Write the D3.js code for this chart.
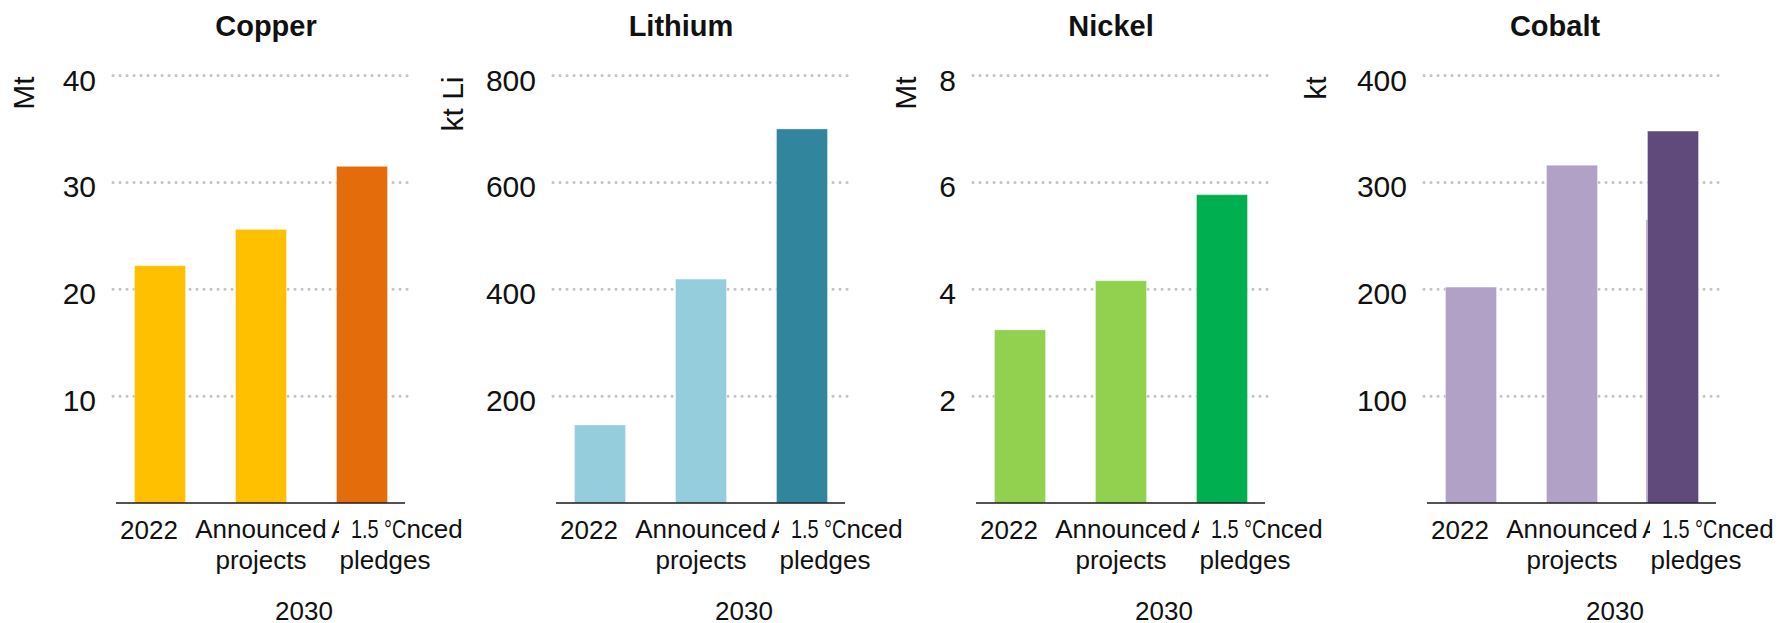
<!DOCTYPE html>
<html>
<head>
<meta charset="utf-8">
<script src="https://cdn.jsdelivr.net/npm/d3@7"></script>
<style>
  body { margin: 0; background: #fff; }
  svg { display: block; font-family: "Liberation Sans", Arial, sans-serif; }
</style>
</head>
<body>
<div id="chart"></div>
<script>
// values
const minerals = ["Copper", "Lithium", "Nickel", "Cobalt"];
const units = ["Mt", "kt Li", "Mt", "kt"];
const categories = ["2022", "Announced projects", "1.5 °C"];
const values2022 = [22.2, 146, 3.24, 202];
const valuesProjects = [25.6, 419, 4.16, 316];
const values15C = [31.5, 700, 5.77, 348];
const valuesPledges = [null, null, null, 265]; // only peeks out behind the cobalt bar
const yMax = [40, 800, 8, 400];
const yTicks = [[10, 20, 30, 40], [200, 400, 600, 800], [2, 4, 6, 8], [100, 200, 300, 400]];
const lightColors = ["#ffc000", "#95cddd", "#92d050", "#b2a1c7"];
const darkColors = ["#e46c0a", "#31859c", "#00b050", "#604a7b"];

// layout of the four panels
const panelLeft = [113, 553, 973, 1424];
const titleX = [266, 681, 1111, 1555];
const unitX = [33.5, 463, 916, 1326];
const plotW = 295, yTop = 75.5, yBottom = 503;
const labelShift = [-11, 0, 23];

const svg = d3.select("#chart").append("svg")
  .attr("width", 1791)
  .attr("height", 623);

minerals.forEach((m, i) => {
  const gl = panelLeft[i];
  const g = svg.append("g");

  const y = d3.scaleLinear().domain([0, yMax[i]]).range([yBottom, yTop]);
  const x = d3.scaleBand().domain(categories)
    .range([gl - 3.5, gl + 299.5])
    .paddingInner(0.495).paddingOuter(0.2475);

  // grid
  g.selectAll(".grid").data(yTicks[i]).enter().append("line")
    .attr("x1", gl).attr("x2", gl + plotW)
    .attr("y1", d => y(d)).attr("y2", d => y(d))
    .attr("stroke", "#c4c4c4")
    .attr("stroke-width", 3)
    .attr("stroke-linecap", "round")
    .attr("stroke-dasharray", "0.1,6.9");

  // tick labels
  g.selectAll(".tick").data(yTicks[i]).enter().append("text")
    .attr("x", gl - 17).attr("y", d => y(d) + 15)
    .attr("text-anchor", "end")
    .attr("font-size", 30)
    .attr("fill", "#111")
    .text(d => d);

  // unit
  g.append("text")
    .attr("transform", `translate(${unitX[i]},${yTop + 1}) rotate(-90)`)
    .attr("text-anchor", "end")
    .attr("font-size", 30)
    .attr("fill", "#111")
    .text(units[i]);

  // title
  g.append("text")
    .attr("x", titleX[i]).attr("y", 36)
    .attr("text-anchor", "middle")
    .attr("font-size", 29)
    .attr("font-weight", "bold")
    .attr("fill", "#111")
    .text(m);

  // hidden "announced pledges" bar
  if (valuesPledges[i] != null) {
    g.append("rect")
      .attr("x", x("1.5 °C") - 1.5)
      .attr("width", x.bandwidth())
      .attr("y", y(valuesPledges[i]))
      .attr("height", yBottom - y(valuesPledges[i]))
      .attr("fill", "#c2b5d4");
  }

  const vals = [values2022[i], valuesProjects[i], values15C[i]];
  const cols = [lightColors[i], lightColors[i], darkColors[i]];
  g.selectAll(".bar").data(categories).enter().append("rect")
    .attr("x", d => x(d))
    .attr("width", x.bandwidth())
    .attr("y", (d, j) => y(vals[j]))
    .attr("height", (d, j) => yBottom - y(vals[j]))
    .attr("fill", (d, j) => cols[j])
    .attr("stroke", "#fff")
    .attr("stroke-opacity", 0.35)
    .attr("stroke-width", 1);

  // baseline
  g.append("line")
    .attr("x1", gl + 3).attr("x2", gl + 292)
    .attr("y1", yBottom).attr("y2", yBottom)
    .attr("stroke", "#1a1a1a")
    .attr("stroke-width", 1.5);

  // category labels
  const cx = categories.map((c, j) => x(c) + x.bandwidth() / 2 + labelShift[j]);
  const lab = g.append("g").attr("font-size", 26).attr("fill", "#111").attr("text-anchor", "middle");
  lab.append("text").attr("x", cx[0]).attr("y", 539).text("2022");
  const pl = lab.append("text").attr("x", cx[2] + 12).attr("y", 538).text("Announced");
  lab.append("text").attr("x", cx[2]).attr("y", 569).text("pledges");

  // "1.5 °C" label drawn over the start of the pledges label
  const node = pl.node();
  const aStart = node.getStartPositionOfChar(0).x;
  const aEnd = node.getEndPositionOfChar(0).x;
  const nStart = node.getStartPositionOfChar(5).x;
  const coverX = aStart + 0.45 * (aEnd - aStart);
  lab.append("rect")
    .attr("x", coverX).attr("y", 514)
    .attr("width", nStart - coverX).attr("height", 30)
    .attr("fill", "#fff");
  lab.append("text")
    .attr("x", coverX + 12).attr("y", 538)
    .attr("text-anchor", "start")
    .attr("textLength", nStart - coverX - 12)
    .attr("lengthAdjust", "spacingAndGlyphs")
    .text("1.5 °C");

  lab.append("text").attr("x", cx[1]).attr("y", 538).text("Announced");
  lab.append("text").attr("x", cx[1]).attr("y", 569).text("projects");

  lab.append("text").attr("x", gl + 191).attr("y", 620).text("2030");
});
</script>
</body>
</html>
